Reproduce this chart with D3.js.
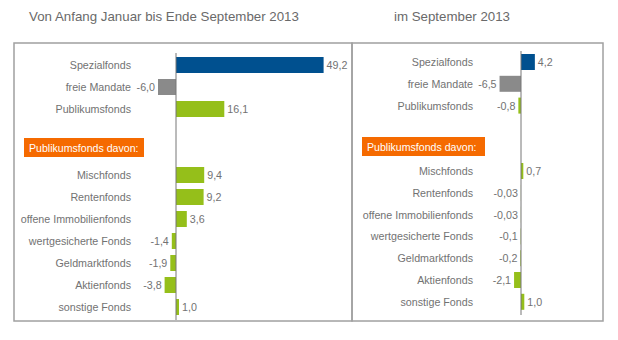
<!DOCTYPE html>
<html><head><meta charset="utf-8">
<script src="https://cdn.jsdelivr.net/npm/d3@7"></script>
<style>body{margin:0;background:#fff;}svg text{font-family:Arial,"Liberation Sans",Helvetica,sans-serif;}</style>
</head><body>
<script>
const categories = ["Spezialfonds","freie Mandate","Publikumsfonds","Mischfonds","Rentenfonds","offene Immobilienfonds","wertgesicherte Fonds","Geldmarktfonds","Aktienfonds","sonstige Fonds"];
const slots = [0,1,2,5,6,7,8,9,10,11];
const kinds = ["spezial","mandate","publikum","publikum","publikum","publikum","publikum","publikum","publikum","publikum"];
const valuesYTD = [49.2,-6.0,16.1,9.4,9.2,3.6,-1.4,-1.9,-3.8,1.0];
const valuesSep = [4.2,-6.5,-0.8,0.7,-0.03,-0.03,-0.1,-0.2,-2.1,1.0];
const titles = ["Von Anfang Januar bis Ende September 2013","im September 2013"];
const subheading = "Publikumsfonds davon:";

const colors = {spezial:"#00508f", mandate:"#8a8a8a", publikum:"#95bf1a"};
const W=618,H=340;
const svg = d3.select("body").append("svg").attr("width",W).attr("height",H);

const fmt = v => (Math.abs(v*10-Math.round(v*10))>1e-9 ? v.toFixed(2) : v.toFixed(1)).replace(".",",");

const panels = [
  {values:valuesYTD, title:titles[0], titleX:164, box:[14,43,352,321], zero:176, ppu:3.0, y0:65, step:22, axis:[53,320], labelX:131, sub:[24,138,120,19]},
  {values:valuesSep, title:titles[1], titleX:452, box:[352,43,603,321], zero:521, ppu:3.3, y0:62, step:21.8, axis:[51,315], labelX:473, sub:[362,137,123,19]}
];

panels.forEach(p=>{
  const g = svg.append("g");
  const x = d3.scaleLinear().domain([0,1]).range([p.zero,p.zero+p.ppu]);
  const y = d3.scaleLinear().domain([0,1]).range([p.y0,p.y0+p.step]);
  const bh = 16;
  g.append("rect").attr("x",p.box[0]).attr("y",p.box[1]).attr("width",p.box[2]-p.box[0]).attr("height",p.box[3]-p.box[1])
   .attr("fill","none").attr("stroke","#a0a0a0").attr("stroke-width",1.5);
  svg.append("text").attr("x",p.titleX).attr("y",21).attr("text-anchor","middle").attr("font-size",13.3).attr("fill","#6a6a6a").text(p.title);
  g.append("rect").attr("x",p.sub[0]).attr("y",p.sub[1]).attr("width",p.sub[2]).attr("height",p.sub[3]).attr("fill","#f56a00");
  g.append("text").attr("x",p.sub[0]+5).attr("y",p.sub[1]+p.sub[3]/2+4).attr("font-size",10.6).attr("fill","#fff").text(subheading);
  categories.forEach((c,i)=>{
    const v = p.values[i];
    const cy = y(slots[i]);
    const x0 = x(Math.min(0,v)), x1 = x(Math.max(0,v));
    g.append("rect").attr("x",x0).attr("y",cy-bh/2).attr("width",Math.max(0,x1-x0)).attr("height",bh).attr("fill",colors[kinds[i]]);
    g.append("text").attr("x",p.labelX).attr("y",cy+4).attr("text-anchor","end").attr("font-size",10.7).attr("fill","#727272").text(c);
    g.append("text").attr("x", v>=0 ? x1+3 : x0-3).attr("y",cy+4).attr("text-anchor", v>=0?"start":"end")
      .attr("font-size",10.7).attr("fill","#727272").text(fmt(v));
  });
  g.append("line").attr("x1",x(0)).attr("x2",x(0)).attr("y1",p.axis[0]).attr("y2",p.axis[1]).attr("stroke","#777").attr("stroke-width",1);
});
</script>
</body></html>
